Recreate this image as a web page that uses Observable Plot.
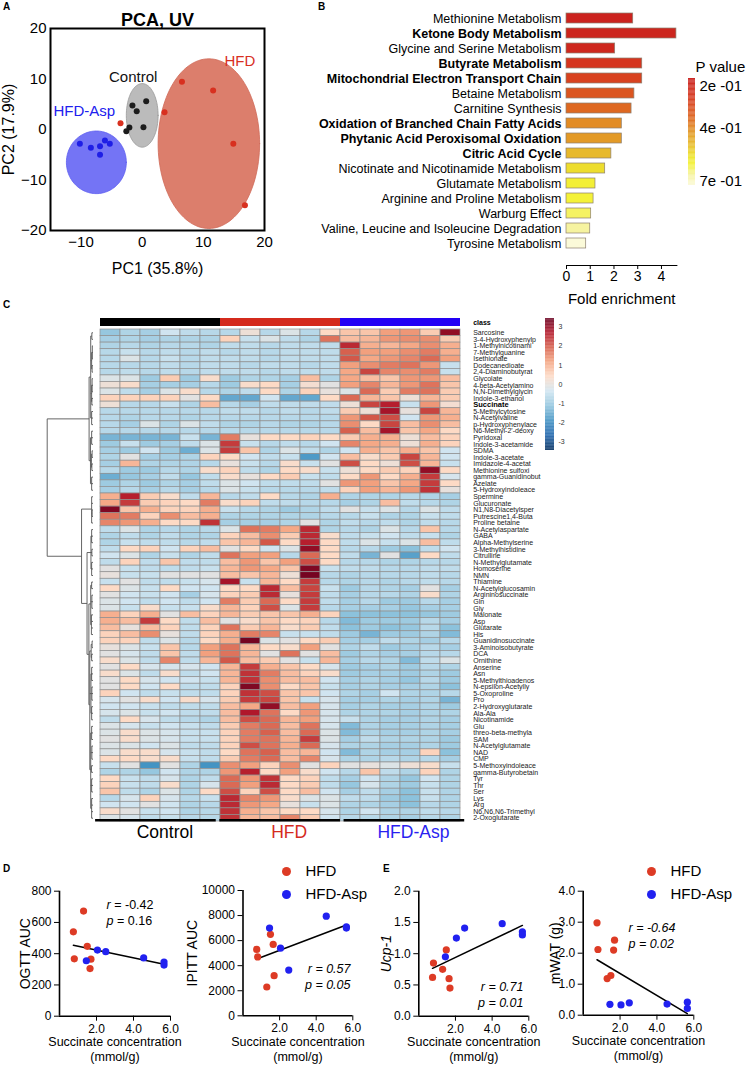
<!DOCTYPE html>
<html><head><meta charset="utf-8">
<script src="https://cdn.jsdelivr.net/npm/d3@7"></script>
<script src="https://cdn.jsdelivr.net/npm/@observablehq/plot@0.6"></script>
<style>
body{margin:0;background:#fff;font-family:"Liberation Sans",Arial,sans-serif;}
#root{position:relative;width:747px;height:1077px;overflow:hidden;background:#fff;}
#root svg{max-width:none;}
.plab{position:absolute;font-weight:bold;font-size:10px;line-height:10px;}
</style></head><body><div id="root"></div>
<script>
// ---------------- DATA ----------------
// Panel A (PCA scores)
const pcaControlX = [-1.6, -0.9, 0.65, -2.1, 0.2, -2.6];
const pcaControlY = [4.75, 3.6, 5.6, 0.4, 0.45, -0.35];
const pcaHfdX = [6.5, 11.6, 3.65, 14.9, 16.8, -3.55];
const pcaHfdY = [9.45, 7.7, 3.4, -2.8, -15.0, 1.25];
const pcaAspX = [-10.2, -8.4, -6.9, -6.1, -5.3, -6.9];
const pcaAspY = [-2.8, -3.6, -3.3, -2.2, -2.8, -5.0];
const pcaGroups = ["Control", "HFD", "HFD-Asp"];
const pcaEllipseCX = [0.0, 10.9, -7.5];
const pcaEllipseCY = [2.8, -2.8, -6.5];
const pcaEllipseRX = [2.6, 8.3, 4.9];
const pcaEllipseRY = [6.3, 16.8, 6.2];

// Panel B (enrichment)
const pathways = ["Methionine Metabolism","Ketone Body Metabolism","Glycine and Serine Metabolism","Butyrate Metabolism","Mitochondrial Electron Transport Chain","Betaine Metabolism","Carnitine Synthesis","Oxidation of Branched Chain Fatty Acids","Phytanic Acid Peroxisomal Oxidation","Citric Acid Cycle","Nicotinate and Nicotinamide Metabolism","Glutamate Metabolism","Arginine and Proline Metabolism","Warburg Effect","Valine, Leucine and Isoleucine Degradation","Tyrosine Metabolism"];
const foldEnrichment = [2.81, 4.63, 2.05, 3.19, 3.19, 2.86, 2.74, 2.33, 2.33, 1.89, 1.63, 1.22, 1.14, 1.04, 1.0, 0.83];
const pValues = [0.17, 0.18, 0.19, 0.24, 0.27, 0.31, 0.35, 0.40, 0.42, 0.47, 0.52, 0.56, 0.57, 0.59, 0.62, 0.67];
const boldPathways = ["Ketone Body Metabolism","Butyrate Metabolism","Mitochondrial Electron Transport Chain","Oxidation of Branched Chain Fatty Acids","Phytanic Acid Peroxisomal Oxidation","Citric Acid Cycle"];
const pLegendTicks = [0.2, 0.4, 0.65];
const pLegendLabels = ["2e -01", "4e -01", "7e -01"];

// Panel C (heatmap)
const samples = ["C1","C2","C3","C4","C5","C6","H1","H2","H3","H4","H5","H6","A1","A2","A3","A4","A5","A6"];
const sampleGroup = ["Control","Control","Control","Control","Control","Control","HFD","HFD","HFD","HFD","HFD","HFD","HFD-Asp","HFD-Asp","HFD-Asp","HFD-Asp","HFD-Asp","HFD-Asp"];
const metabolites = ["Sarcosine","3-4-Hydroxyphenylp","1-Methylnicotinami","7-Methylguanine","Isethionate","Dodecanedioate","2,4-Diaminobutyrat","Glycolate","4-beta-Acetylamino","N,N-Dimethylglycin","Indole-3-ethanol","Succinate","5-Methylcytosine","N-Acetylvaline","p-Hydroxyphenylace","N6-Methyl-2'-deoxy","Pyridoxal","Indole-3-acetamide","SDMA","Indole-3-acetate","Imidazole-4-acetat","Methionine sulfoxi","gamma-Guanidinobut","Azelate","5-Hydroxyindoleace","Spermine","Glucuronate","N1,N8-Diacetylsper","Putrescine1,4-Buta","Proline betaine","N-Acetylaspartate","GABA","Alpha-Methylserine","3-Methylhistidine","Citrulline","N-Methylglutamate","Homoserine","NMN","Thiamine","N-Acetylglucosamin","Argininosuccinate","Gln","Gly","Malonate","Asp","Glutarate","His","Guanidinosuccinate","3-Aminoisobutyrate","DCA","Ornithine","Anserine","Asn","5-Methylthioadenos","N-epsilon-Acetylly","5-Oxoproline","Pro","2-Hydroxyglutarate","Ala-Ala","Nicotinamide","Glu","threo-beta-methyla","SAM","N-Acetylglutamate","NAD","CMP","5-Methoxyindoleace","gamma-Butyrobetain","Tyr","Thr","Ser","Lys","Arg","N6,N6,N6-Trimethyl","2-Oxoglutarate"];
const boldMetabolites = ["Succinate"];
const heatValues = [
[-1.1,-0.8,-0.9,-0.4,-0.6,-0.7,-0.7,0.1,-0.7,-0.2,-0.7,0.4,0.7,0.7,1.2,1.3,0.6,3.0],
[-0.9,-0.8,-0.9,-0.8,-0.8,-0.8,0.5,-0.5,-0.2,-0.6,-0.8,1.7,0.8,0.9,1.3,1.4,1.4,0.6],
[-0.8,-0.7,-0.8,-0.7,-0.7,-0.8,-0.6,-0.6,-0.7,-0.6,-0.6,-0.6,2.5,1.0,0.9,1.1,1.4,1.0],
[-0.7,-0.5,-0.7,-0.6,-0.7,-0.6,-0.7,-0.6,-0.7,-0.6,-0.6,-0.6,1.9,1.2,1.2,1.4,1.6,1.0],
[-0.7,-0.2,-0.7,-0.5,-0.7,-0.6,-0.6,-0.6,-0.7,-0.6,-0.6,-0.6,2.0,1.1,1.3,1.5,1.8,1.2],
[-0.7,-0.7,-0.7,-0.6,-0.7,-0.6,-0.6,-0.7,-0.6,-0.6,-0.7,-0.6,1.2,1.4,1.6,1.7,1.3,-0.5],
[-0.7,-0.6,-0.7,-0.6,-0.7,-0.6,-0.6,-0.6,-0.7,-0.6,-0.6,-0.6,1.1,2.2,1.5,1.4,1.6,-0.5],
[-0.2,-0.2,-1.0,0.6,-1.0,0.3,-1.0,-0.8,-0.8,-0.9,0.8,-0.8,1.1,0.8,0.7,1.3,1.3,0.8],
[0.1,0.3,-0.9,-0.9,-0.9,-0.7,-1.0,0.3,0.4,-0.9,0.2,-0.1,1.2,1.5,0.9,1.3,1.7,0.7],
[-0.2,-0.6,-0.9,-0.2,0.3,-0.7,-0.8,-0.6,0.4,-0.8,0.5,0.0,-0.2,1.8,0.6,1.6,1.7,0.6],
[0.5,0.5,0.5,0.5,-0.1,0.4,-1.6,-1.6,-0.4,-1.6,-1.6,0.4,1.8,0.9,0.7,0.1,0.9,0.6],
[0.1,-0.7,-0.7,-0.5,-0.8,0.8,-0.7,-0.9,-0.6,-0.6,-0.6,-0.6,0.1,2.2,2.6,-0.5,1.3,0.2],
[-0.7,-0.7,-0.7,-0.7,-0.7,-0.7,-0.6,-0.6,-0.7,-0.6,-0.7,-0.6,0.6,0.1,2.8,0.0,2.2,0.9],
[-0.7,-0.8,-0.7,-0.7,-0.8,-0.7,-0.7,-0.7,-0.7,-0.7,-0.7,-0.7,1.3,2.0,2.1,-0.4,1.3,1.0],
[-0.7,-0.9,-0.2,-0.8,-0.2,-0.6,-0.8,-0.8,-0.7,-0.8,-0.8,-0.7,1.4,0.4,2.2,0.8,1.4,0.8],
[-0.7,-0.7,-0.7,-0.7,-0.7,-0.7,-0.7,-0.7,-0.7,-0.7,-0.7,-0.7,1.9,0.8,2.8,0.7,1.1,0.4],
[-1.4,-1.4,-1.4,-1.4,-0.5,-1.4,1.6,0.0,0.4,0.4,0.5,0.4,0.6,1.0,1.0,0.1,0.8,0.5],
[-1.0,-0.5,-1.0,-0.9,-0.6,-0.2,2.3,-0.5,-0.7,-0.6,-0.7,-0.4,1.5,1.1,1.0,0.1,1.0,0.5],
[-0.9,-1.0,-0.4,-1.0,-1.5,-0.2,2.3,0.7,-0.8,-0.2,-0.6,-0.8,-0.4,1.0,0.7,1.0,0.7,-0.4],
[-0.8,-0.1,-0.9,-0.9,-0.8,0.5,0.4,-0.4,-0.6,-0.5,-1.8,-0.4,0.8,0.3,0.6,2.2,0.9,-0.4],
[-0.9,0.9,-0.8,-0.8,-0.8,-0.7,0.0,-0.5,-0.7,0.3,-0.5,-0.1,2.1,0.4,0.1,2.1,0.9,-0.5],
[-0.7,-1.0,-1.0,-0.7,-0.8,0.3,0.5,-0.6,-0.8,0.4,0.3,-0.5,0.1,0.4,0.6,0.5,3.0,0.4],
[-1.5,-1.1,-0.9,-0.6,-1.1,-0.6,0.3,0.0,0.4,0.6,-0.5,-0.6,0.4,1.3,0.4,1.0,2.3,-0.3],
[-1.0,-0.8,-1.0,-0.8,-0.9,-0.6,-0.2,-0.4,-0.6,-0.6,-0.6,-0.1,1.3,1.2,0.7,1.1,2.3,0.4],
[-0.9,-0.7,-0.9,-0.7,-0.9,-0.7,-0.2,-0.5,-0.7,-0.7,-0.7,-0.6,0.5,1.2,0.9,1.3,2.4,0.0],
[1.0,2.6,0.6,0.3,-0.6,0.9,-0.7,-0.6,0.4,-0.7,-0.8,1.0,-0.8,-0.8,-0.8,-0.7,-0.8,-0.9],
[1.1,2.3,0.6,0.5,0.4,1.6,0.3,0.5,-0.6,-0.6,-0.7,-0.7,-0.9,-0.8,0.8,-0.6,-0.7,-0.8],
[3.2,0.7,1.0,0.5,0.5,1.0,-0.5,-0.7,-0.8,-1.0,-0.8,-0.6,-0.1,-0.5,-0.2,-0.7,-0.2,-0.6],
[1.7,1.6,0.5,1.4,0.8,1.0,-0.8,-0.8,-0.8,-0.8,-0.8,-0.7,-0.7,-0.5,-0.8,-0.8,-0.5,-0.6],
[1.5,1.3,1.0,0.4,0.4,2.4,-0.9,-0.9,-0.9,-0.8,-0.1,-0.8,-0.6,-0.7,-0.6,-0.8,-0.6,-0.7],
[-0.6,-0.2,-0.8,-0.7,-0.8,-0.7,-0.2,1.7,1.6,1.1,2.5,-0.8,-0.7,-0.8,-0.2,-0.7,0.7,-0.7],
[-0.8,-0.6,-0.8,-0.6,-0.8,-0.8,0.5,0.8,1.4,0.6,2.5,0.3,-0.6,-0.5,-0.4,-0.6,-0.5,-0.8],
[-0.8,-0.5,-0.6,-0.6,-0.7,-0.6,0.7,0.9,2.0,0.4,2.6,0.4,-0.6,-0.2,-0.5,-0.2,0.8,-0.6],
[-0.6,0.4,0.5,-0.4,0.5,0.8,-0.1,0.4,-0.4,-0.2,3.0,0.4,-0.7,-0.7,-1.0,-1.2,-0.6,-0.4],
[-0.4,-0.2,-0.8,-0.5,-0.8,-0.6,1.7,1.2,1.2,-0.7,1.8,0.4,-0.6,-1.4,-0.1,-1.7,0.4,-0.6],
[-0.6,0.5,-0.6,0.7,-0.6,-0.6,0.8,1.3,0.7,1.2,2.1,0.4,-0.7,-0.7,-0.8,-0.8,-0.7,-0.7],
[-0.1,-0.5,-0.6,-0.6,-0.6,-0.5,0.9,1.3,1.1,0.7,3.2,-0.5,-0.6,-0.6,-0.7,-0.7,-0.6,-0.6],
[0.0,-0.5,-0.5,-0.1,-0.1,-0.1,0.8,0.7,0.9,0.1,3.3,-0.7,-0.8,-0.7,-0.7,-0.7,-0.6,-0.7],
[-0.5,-0.1,-0.6,-0.6,-0.5,-0.3,2.8,-0.5,0.9,0.4,2.3,-0.7,-0.8,-0.7,-0.8,-0.7,-0.6,-0.7],
[0.4,-0.2,-0.5,0.4,-0.4,-0.4,0.4,0.4,2.5,0.8,2.2,-0.5,-1.0,-0.7,-0.8,-0.9,-0.1,-0.9],
[-0.1,-0.4,-0.5,-0.4,-0.9,-0.3,0.5,0.6,2.5,0.0,2.3,-0.6,-0.9,-0.7,-0.7,-0.8,0.3,-0.8],
[-0.2,-0.4,-0.6,-0.4,-0.6,-0.4,1.6,0.6,1.8,0.4,2.3,-0.6,-0.9,-0.7,-1.0,-1.0,-0.7,-0.9],
[-0.2,-0.5,0.3,-0.5,-0.5,0.3,0.9,0.5,2.1,-0.2,2.3,-0.7,-0.9,-0.9,-0.9,-1.1,-0.9,-0.9],
[1.0,0.5,1.0,-0.1,0.8,0.5,0.9,0.6,0.7,0.7,1.0,0.5,-1.2,-1.2,-1.2,-1.2,-1.1,-1.0],
[1.0,0.8,2.3,0.4,-0.6,0.8,-0.1,0.3,0.7,0.4,0.5,-0.7,-1.3,-1.0,-1.0,-1.0,-0.7,-0.9],
[0.8,0.0,0.8,0.5,-0.6,0.5,1.7,0.6,0.9,0.3,0.6,-0.6,-1.2,-1.0,-1.2,-1.1,-0.7,-1.2],
[0.5,0.8,1.4,0.0,-0.6,0.5,1.0,1.6,1.5,-0.5,-0.5,-0.6,-1.0,-1.4,-1.0,-1.0,-0.8,-1.3],
[0.5,0.5,-0.6,-0.2,-0.7,0.4,1.0,3.3,-0.2,-0.1,0.4,0.6,-0.9,-0.9,-0.6,-0.8,-0.9,-0.7],
[0.0,-0.2,-0.5,0.7,-0.7,1.2,1.7,0.9,0.4,0.3,1.2,-0.1,-0.8,-0.6,-1.0,-0.9,-0.7,-0.9],
[-0.1,-0.3,-0.6,0.7,-0.6,1.2,1.7,0.9,-0.1,1.7,-0.1,0.8,-1.0,-0.8,-0.9,-0.9,-0.7,-0.7],
[0.3,-0.2,-0.6,1.5,-0.6,0.9,2.0,0.8,0.6,-0.1,-0.5,0.9,-0.9,-0.7,-0.8,-1.3,-0.6,-0.2],
[-0.1,0.4,-0.3,-0.3,-0.3,-0.4,0.9,2.3,1.0,0.7,0.4,-0.3,-1.0,-0.9,-0.8,-1.0,-0.7,-0.8],
[0.3,-0.2,-0.6,0.3,-0.6,-0.4,0.9,2.4,1.6,0.8,0.5,0.3,-1.0,-0.9,-0.9,-1.0,-0.8,-1.0],
[-0.1,0.4,-0.3,-0.4,-0.4,-0.5,0.9,2.4,1.4,0.8,0.8,-0.4,-0.9,-0.8,-0.9,-1.1,-0.7,-1.0],
[-0.1,0.4,-0.4,0.4,-0.6,-0.6,0.5,3.2,1.4,0.4,0.7,-0.5,-0.9,-0.8,-0.9,-0.9,-0.8,-1.2],
[0.5,-0.4,-0.6,-0.5,-0.6,-0.6,0.5,2.4,2.1,0.7,0.7,-0.4,-0.8,-0.9,-0.4,-0.8,-0.8,-0.7],
[-0.3,-0.1,0.3,-0.4,0.3,-0.3,0.6,2.3,2.2,0.7,-0.5,-0.3,-0.9,-0.9,-0.8,-0.9,-0.8,-1.4],
[-0.4,-0.4,-0.5,-0.6,-0.6,-0.6,0.8,1.1,3.0,0.8,1.2,-0.3,-0.9,-0.8,-0.9,-0.9,-0.8,-1.0],
[-0.3,-0.2,-0.5,-0.4,-0.6,-0.6,0.8,2.7,1.7,0.4,1.3,-0.3,-0.8,-0.8,-0.8,-0.9,-0.8,-0.8],
[-0.6,0.4,-0.3,-0.6,-0.7,-0.8,0.8,2.1,1.8,0.9,1.2,-0.3,-0.5,-0.8,-0.9,-0.9,-0.8,-0.9],
[-0.2,-0.3,-0.5,-0.4,-0.5,-0.6,0.6,1.6,1.8,0.8,1.7,-0.3,-1.3,-0.8,-0.9,-0.9,-0.8,-0.9],
[-0.2,0.3,-0.2,-0.3,-0.5,-0.5,0.5,1.6,1.9,0.8,1.8,-0.2,-1.3,-0.8,-0.9,-0.9,-0.8,-0.9],
[-0.1,0.3,-0.2,-0.3,-0.5,-0.5,0.5,1.6,1.7,0.9,2.3,-0.2,-0.9,-0.6,-0.8,-0.8,-0.8,-1.0],
[-0.2,-0.2,-0.4,-0.2,-0.6,-0.6,0.5,2.1,1.7,1.0,1.8,-0.3,-0.8,-0.8,-0.9,-0.9,-0.8,-1.0],
[-0.2,0.3,0.3,-0.3,-0.5,-0.6,0.4,1.7,1.9,0.8,0.9,-0.4,-1.3,-0.8,-0.9,-0.9,0.5,-1.2],
[0.4,0.4,0.3,0.3,-0.5,-0.6,0.6,1.6,1.8,0.8,1.5,-0.3,-0.8,-0.8,-0.7,-0.8,-0.7,-0.9],
[-0.5,-0.1,-1.9,-0.1,-0.8,-1.9,1.4,1.2,0.5,1.4,-0.1,0.5,-0.1,0.0,-0.2,0.1,0.3,-0.5],
[-0.8,-0.8,-1.1,-0.4,-0.8,-0.8,1.3,2.6,0.4,1.2,0.3,-0.4,-0.7,0.7,-0.6,-0.8,0.5,-0.8],
[0.4,-0.5,-0.6,-0.3,-0.8,-0.6,1.8,1.3,2.4,0.4,0.5,-0.6,-0.9,-0.4,-0.8,-1.1,-0.4,-0.8],
[0.5,-0.5,-0.6,0.3,-0.8,-0.3,1.8,1.2,2.5,0.4,0.6,-0.6,-1.1,-0.3,-0.8,-1.0,-0.5,-0.8],
[0.7,-0.6,-0.8,-0.2,-0.8,0.4,2.1,0.5,2.1,0.4,0.8,-0.4,-0.9,-0.6,-0.9,-1.2,-0.5,-0.8],
[-0.7,-0.3,0.5,-0.3,-0.7,-0.5,2.5,1.5,1.3,0.3,-0.2,-0.2,-0.6,-0.6,-1.0,-1.2,-0.5,-0.8],
[-0.4,-0.4,-0.1,-0.4,-0.8,-0.7,2.5,1.3,1.1,0.0,-0.5,-0.2,-0.8,-0.8,-0.9,-1.2,-0.7,-0.8],
[0.3,-0.1,-0.5,-0.4,-0.8,-0.7,2.4,1.0,0.7,0.4,0.4,-0.3,-0.8,-0.4,-0.8,-0.8,-0.6,-0.7],
[-0.2,-0.3,-0.6,-0.5,-0.7,-0.7,2.4,0.9,0.8,1.5,0.6,-0.4,-0.7,-0.7,-0.8,-0.9,-0.7,-0.8]
];
// dendrogram: [mergeHeight, ...children]; leaves are row indices
const dendroTree =
[10,
  [0.85,
    [0.5,[0.25,0,1],[0.3,[0.15,2,3,4],[0.2,5,6]],[0.3,[0.2,7,8,9],[0.25,10,11]],[0.3,12,13,14]],
    [0.55,[0.3,15,16,17],[0.35,[0.2,18,19],[0.25,20,21]],[0.3,22,23,24]]],
  [2.5,
    [0.3,25,26,[0.2,27,28],29],
    [1.3,
      [0.45,[0.3,30,31,32],[0.25,33,34],[0.3,35,36,37]],
      [0.9,
        [0.5,[0.3,38,39],[0.25,40,41,42],[0.35,43,44,45,46]],
        [0.7,[0.4,[0.2,47,48],[0.3,49,50]],
             [0.45,[0.3,51,52,53],[0.25,54,55,56],[0.3,57,58,59]],
             [0.5,[0.3,60,61,62],[0.25,63,64,65],[0.35,66,67],[0.3,68,69,70],[0.3,71,72,73,74]]]]]]];
const heatLegendTicks = [-3, -2, -1, 0, 1, 2, 3];
const heatPalette = ["#053061","#2166ac","#4393c3","#92c5de","#d1e5f0","#fddbc7","#f4a582","#d6604d","#b2182b","#67001f"];

// Panels D & E (succinate correlations)
const succHFD = [0.75, 0.8, 1.3, 1.5, 1.65, 1.7];
const succAsp = [1.45, 2.05, 2.5, 4.55, 5.65, 5.65];
const ogttHFD = [540, 367, 673, 447, 305, 365];
const ogttAsp = [355, 423, 413, 373, 347, 327];
const ipittHFD = [5300, 4700, 2300, 6500, 5700, 3200];
const ipittAsp = [7000, 5400, 3650, 7950, 7100, 7000];
const ucp1HFD = [0.62, 0.85, 0.75, 1.06, 0.6, 0.45];
const ucp1Asp = [0.95, 1.25, 1.41, 1.48, 1.35, 1.30];
const mwatHFD = [2.98, 2.12, 1.18, 1.28, 2.1, 2.42];
const mwatAsp = [0.35, 0.33, 0.4, 0.36, 0.42, 0.22];

// ---------------- LAYOUT ----------------
const FONT = '"Liberation Sans", Arial, sans-serif';
const root = document.getElementById("root");
function place(el, left, top) {
  el.style.position = "absolute"; el.style.left = left + "px"; el.style.top = top + "px";
  el.style.maxWidth = "none"; el.style.background = "transparent"; el.style.overflow = "visible";
  root.appendChild(el);
}
function label(t, left, top) {
  const d = document.createElement("div"); d.className = "plab"; d.textContent = t;
  d.style.left = left + "px"; d.style.top = top + "px"; root.appendChild(d);
}
const baseStyle = (fs) => ({fontFamily: FONT, fontSize: fs, background: "transparent", color: "black", overflow: "visible"});
// rotated (-90°) axis title, centred on the frame's left edge and shifted left
const vLabel = (t, shiftLeft, opts = {}) => Plot.text([t], {frameAnchor: "left", text: d => d, rotate: -90, textAnchor: "middle", dx: -shiftLeft, ...opts});

// ---- Panel A ----
const groupColor = {"Control": "#1c1c1c", "HFD": "#d8301f", "HFD-Asp": "#1e1ee6"};
const ellFill = ["#bbbbbb", "#dc7e6c", "#7474f5"];
const ellStroke = ["#999999", "#cf6a58", "#5d5df0"];
const angles = d3.range(0, 361, 3).map(a => a * Math.PI / 180);
const ellipseMarks = pcaGroups.map((g, i) => Plot.line(
  angles.map(t => ({x: pcaEllipseCX[i] + pcaEllipseRX[i] * Math.cos(t), y: pcaEllipseCY[i] + pcaEllipseRY[i] * Math.sin(t)})),
  {x: "x", y: "y", fill: ellFill[i], stroke: ellStroke[i], strokeWidth: 0.8, curve: "linear-closed"}));
const pcaPts = (xs, ys) => xs.map((x, i) => ({x, y: ys[i]}));
const ellTop = (i) => [{x: pcaEllipseCX[i], y: pcaEllipseCY[i] + pcaEllipseRY[i]}];
const pca = Plot.plot({
  width: 270, height: 290, marginLeft: 50, marginRight: 6, marginTop: 28, marginBottom: 60,
  x: {domain: [-15, 20], ticks: [-10, 0, 10, 20], tickSize: 0, tickPadding: 6, label: null},
  y: {domain: [-20, 20], ticks: [-20, -10, 0, 10, 20], tickSize: 0, tickPadding: 4, label: null},
  style: baseStyle("15px"),
  marks: [
    ...ellipseMarks,
    Plot.frame({stroke: "black", strokeWidth: 2}),
    Plot.dot(pcaPts(pcaControlX, pcaControlY), {x: "x", y: "y", r: 3, fill: groupColor["Control"]}),
    Plot.dot(pcaPts(pcaHfdX, pcaHfdY), {x: "x", y: "y", r: 3, fill: groupColor["HFD"]}),
    Plot.dot(pcaPts(pcaAspX, pcaAspY), {x: "x", y: "y", r: 3, fill: groupColor["HFD-Asp"]}),
    Plot.text(ellTop(0), {x: "x", y: "y", text: () => "Control", dx: -9, dy: -6, fontSize: 15, fill: "#111"}),
    Plot.text(ellTop(1), {x: "x", y: "y", text: () => "HFD", dx: 31, dy: 2, fontSize: 15, fill: "#d8301f"}),
    Plot.text(ellTop(2), {x: "x", y: "y", text: () => "HFD-Asp", dx: -12, dy: -20, fontSize: 15, fill: "#2020ee"}),
    Plot.text(["PCA, UV"], {frameAnchor: "top", text: d => d, dy: -15, fontSize: 18, fontWeight: "bold"}),
    Plot.text(["PC1 (35.8%)"], {frameAnchor: "bottom", text: d => d, dy: 43, fontSize: 16}),
    vLabel("PC2 (17.9%)", 42, {fontSize: 16})
  ]
});
place(pca, 0, 0);

// ---- Panel B ----
const pColor = {type: "linear", interpolate: "rgb",
  domain: [0.15, 0.25, 0.35, 0.42, 0.48, 0.53, 0.57, 0.62, 0.68],
  range: ["#c81e1e", "#d6381f", "#de6821", "#e39a27", "#e8bf2d", "#eee42e", "#f4f238", "#f6f3a0", "#fcfbe4"]};
const enrich = pathways.map((name, i) => ({name, fold: foldEnrichment[i], p: pValues[i], bold: boldPathways.includes(name)}));
const barPlot = Plot.plot({
  width: 440, height: 310, marginLeft: 316, marginRight: 13.6, marginTop: 4.85, marginBottom: 45,
  x: {domain: [0, 4.65], ticks: [0, 1, 2, 3, 4], tickFormat: d3.format("d"), tickSize: 4, tickPadding: 2, line: true, label: null},
  y: {domain: pathways, paddingInner: 0.34, paddingOuter: 0.17, insetBottom: 9, axis: null},
  color: pColor,
  style: baseStyle("14px"),
  marks: [
    Plot.barX(enrich, {x: "fold", y: "name", fill: "p", stroke: "#8c7f70", strokeWidth: 0.7}),
    Plot.text(enrich.filter(d => !d.bold), {y: "name", text: "name", frameAnchor: "left", textAnchor: "end", dx: -5, fontSize: 12.5}),
    Plot.text(enrich.filter(d => d.bold), {y: "name", text: "name", frameAnchor: "left", textAnchor: "end", dx: -5, fontSize: 12.5, fontWeight: "bold"}),
    Plot.text(["Fold enrichment"], {frameAnchor: "bottom", text: d => d, dy: 38, fontSize: 15})
  ]
});
place(barPlot, 250, 0);

const pRamp = d3.range(0.162, 0.671, 0.004);
const pLegend = Plot.plot({
  width: 77, height: 150, marginLeft: 18, marginRight: 52, marginTop: 28, marginBottom: 15,
  x: {axis: null}, y: {domain: [0.162, 0.671], reverse: true, axis: null},
  color: pColor, style: baseStyle("15px"),
  marks: [
    Plot.rect(pRamp, {y1: d => d, y2: d => Math.min(d + 0.0045, 0.671), fill: d => d}),
    Plot.text(pLegendTicks, {y: d => d, text: (d, i) => pLegendLabels[i], frameAnchor: "right", textAnchor: "start", dx: 4, fontSize: 15}),
    Plot.text(["P value"], {frameAnchor: "top-right", text: d => d, textAnchor: "start", dy: -17, fontSize: 15})
  ]
});
place(pLegend, 670, 50);

// ---- Panel C ----
const heatColor = {type: "linear", interpolate: "rgb",
  domain: d3.range(10).map(i => -3.44 + i * 6.88 / 9), range: heatPalette};
const cells = [];
metabolites.forEach((m, i) => samples.forEach((s, j) => cells.push({m, s, v: heatValues[i][j]})));
const heat = Plot.plot({
  width: 560, height: 530, marginLeft: 93.3, marginRight: 94, marginTop: 29, marginBottom: 9,
  x: {domain: samples, padding: 0, axis: null},
  y: {domain: metabolites, padding: 0, axis: null},
  color: heatColor, style: baseStyle("7px"),
  marks: [
    Plot.cell(cells, {x: "s", y: "m", fill: "v", stroke: "#8f8f8f", strokeWidth: 0.7, inset: 0}),
    Plot.text(metabolites.filter(m => !boldMetabolites.includes(m)), {y: d => d, text: d => d, frameAnchor: "right", textAnchor: "start", dx: 6.7, fontSize: 7, fill: "#222"}),
    Plot.text(boldMetabolites, {y: d => d, text: d => d, frameAnchor: "right", textAnchor: "start", dx: 6.7, fontSize: 7.5, fontWeight: "bold"})
  ]
});
place(heat, 0, 300);

// dendrogram
const segs = [];
function walk(node) {
  if (typeof node === "number") return {h: 0, y: node};
  const [h, ...kids] = node;
  const ks = kids.map(walk);
  ks.forEach(k => segs.push({x1: k.h, y1: k.y, x2: h, y2: k.y}));
  const ys = ks.map(k => k.y);
  segs.push({x1: h, y1: d3.min(ys), x2: h, y2: d3.max(ys)});
  return {h, y: d3.mean(ys)};
}
walk(dendroTree);
const dendro = Plot.plot({
  width: 94, height: 530, marginLeft: 46.7, marginRight: 1.5, marginTop: 29, marginBottom: 9,
  x: {domain: [10, 0], axis: null},
  y: {domain: [-0.5, metabolites.length - 0.5], reverse: true, axis: null},
  style: baseStyle("7px"),
  marks: [Plot.link(segs, {x1: "x1", y1: "y1", x2: "x2", y2: "y2", stroke: "#555", strokeWidth: 0.9})]
});
place(dendro, 0, 300);

// class bar
const groupNames = ["Control", "HFD", "HFD-Asp"];
const classColors = ["#000000", "#d42a1c", "#2200f5"];
const classBar = Plot.plot({
  width: 560, height: 20, marginLeft: 93.3, marginRight: 94, marginTop: 8, marginBottom: 4,
  x: {domain: samples, padding: 0, axis: null},
  color: {domain: groupNames, range: classColors},
  style: baseStyle("7px"),
  marks: [
    Plot.cell(samples, {x: d => d, fill: (d, i) => sampleGroup[i], inset: 0}),
    Plot.text(["class"], {frameAnchor: "right", text: d => d, textAnchor: "start", dx: 6.7, fontSize: 7, fontWeight: "bold"})
  ]
});
place(classBar, 0, 310);

// group underline + labels
const groupSpans = groupNames.map(g => {
  const idx = sampleGroup.map((s, i) => s === g ? i : -1).filter(i => i >= 0);
  return {g, start: d3.min(idx), end: d3.max(idx) + 1};
});
const groupLbl = Plot.plot({
  width: 560, height: 40, marginLeft: 93.3, marginRight: 94, marginTop: 7, marginBottom: 30.5,
  x: {domain: [0, samples.length], axis: null},
  color: {domain: groupNames, range: ["#000000", "#d52b1e", "#2a1ff0"]},
  style: baseStyle("17.5px"),
  marks: [
    Plot.rect(groupSpans, {x1: "start", x2: "end", fill: "black", insetLeft: 1.8, insetRight: 1.8}),
    Plot.text(groupSpans, {x: d => (d.start + d.end) / 2, text: "g", fill: "g", frameAnchor: "bottom", dy: 15.5, dx: 9, fontSize: 17.5})
  ]
});
place(groupLbl, 0, 812);

// heat legend
const heatRamp = d3.range(-3.44, 3.44, 0.04);
const heatLegend = Plot.plot({
  width: 40, height: 160, marginLeft: 15, marginRight: 16, marginTop: 18, marginBottom: 10,
  x: {axis: null}, y: {domain: [-3.44, 3.44], axis: null},
  color: heatColor, style: baseStyle("7px"),
  marks: [
    Plot.rect(heatRamp, {y1: d => d, y2: d => Math.min(d + 0.045, 3.44), fill: d => d}),
    Plot.text(heatLegendTicks, {y: d => d, text: d => String(d), frameAnchor: "right", textAnchor: "start", dx: 4, fontSize: 7, fill: "#333"})
  ]
});
place(heatLegend, 530, 300);

// ---- Panels D & E ----
function scatter(cfg) {
  const hfd = succHFD.map((x, i) => ({x, y: cfg.hfd[i]}));
  const asp = succAsp.map((x, i) => ({x, y: cfg.asp[i]}));
  const all = hfd.concat(asp);
  const W = cfg.W, H = cfg.H;
  const marks = [
    Plot.ruleX([0], {strokeWidth: 1.6}),
    Plot.ruleY([cfg.yDomain[0]], {strokeWidth: 1.6}),
    Plot.linearRegressionY(all, {x: "x", y: "y", stroke: "black", strokeWidth: 1.5, ci: 0}),
    Plot.dot(hfd, {x: "x", y: "y", r: 3.6, fill: "#dd3b25"}),
    Plot.dot(asp, {x: "x", y: "y", r: 3.6, fill: "#2121f0"}),
    Plot.text(["Succinate concentration\n(mmol/g)"], {frameAnchor: "bottom", text: d => d, dy: 44.8, fontSize: 12.5, lineHeight: 1.2}),
    vLabel(cfg.ylabel, cfg.ylabelShift, {fontSize: 14, fontStyle: cfg.ylabelItalic ? "italic" : "normal"})
  ].concat(cfg.annot);
  return Plot.plot({
    width: W, height: H,
    marginLeft: cfg.fL - cfg.L, marginTop: cfg.fT - cfg.T, marginRight: cfg.L + W - cfg.fR, marginBottom: cfg.T + H - cfg.fB,
    x: {domain: [0, 6], ticks: [2, 4, 6], tickFormat: d3.format(".1f"), tickSize: 5, tickPadding: 3, label: null},
    y: {domain: cfg.yDomain, ticks: cfg.yTicks, tickFormat: cfg.yFormat, tickSize: 5, tickPadding: 3, label: null},
    style: baseStyle("12px"),
    marks
  });
}
const fs = 12.5;
const annText = (t, anchor, dx, dy, italic, ta) => Plot.text([t], {frameAnchor: anchor, text: d => d, dx, dy, fontSize: fs, fontStyle: italic ? "italic" : "normal", textAnchor: ta});
const d1 = scatter({L: 0, T: 860, W: 185, H: 215, fL: 59, fT: 890.7, fR: 170, fB: 1015.7,
  hfd: ogttHFD, asp: ogttAsp, yDomain: [0, 800], yTicks: [0, 200, 400, 600, 800], yFormat: d3.format("d"),
  ylabel: "OGTT AUC", ylabelShift: 34,
  annot: [annText("r", "top-left", 47, 9.3, true, "start"), annText("= -0.42", "top-left", 54.7, 9.3, false, "start"),
          annText("p", "top-left", 47, 25, true, "start"), annText("= 0.16", "top-left", 57.5, 25, false, "start")]});
place(d1, 0, 860);
const d2 = scatter({L: 185, T: 860, W: 180, H: 215, fL: 242.5, fT: 890, fR: 352.3, fB: 1015.3,
  hfd: ipittHFD, asp: ipittAsp, yDomain: [0, 10000], yTicks: [0, 2000, 4000, 6000, 8000, 10000], yFormat: d3.format("d"),
  ylabel: "IPITT AUC", ylabelShift: 50.8,
  annot: [annText("r = 0.57", "top-right", -2.3, 74, true, "end"), annText("p = 0.05", "top-right", -2.3, 90, true, "end")]});
place(d2, 185, 860);
const e1 = scatter({L: 365, T: 860, W: 175, H: 215, fL: 418.3, fT: 890.7, fR: 528.3, fB: 1015.7,
  hfd: ucp1HFD, asp: ucp1Asp, yDomain: [0, 2], yTicks: [0, 0.5, 1, 1.5, 2], yFormat: d3.format(".1f"),
  ylabel: "Ucp-1", ylabelShift: 32.3, ylabelItalic: true,
  annot: [annText("r = 0.71", "top-right", -5.3, 91, true, "end"), annText("p = 0.01", "top-right", -5.3, 107, true, "end")]});
place(e1, 365, 860);
const e2 = scatter({L: 540, T: 860, W: 207, H: 215, fL: 582.7, fT: 890.7, fR: 693.3, fB: 1014.7,
  hfd: mwatHFD, asp: mwatAsp, yDomain: [0, 4], yTicks: [0, 1, 2, 3, 4], yFormat: d3.format(".1f"),
  ylabel: "mWAT (g)", ylabelShift: 27.7,
  annot: [annText("r = -0.64", "top-left", 45.3, 32.3, true, "start"), annText("p = 0.02", "top-left", 45.3, 48.3, true, "start")]});
place(e2, 540, 860);

// legends for D and E
const legendGroups = ["HFD", "HFD-Asp"];
const legendColors = ["#dd3b25", "#2121f0"];
function legendPlot() {
  return Plot.plot({
    width: 130, height: 45, marginLeft: 10, marginRight: 10, marginTop: 11, marginBottom: 11,
    x: {domain: [0, 1], axis: null},
    y: {type: "point", domain: legendGroups, padding: 0, axis: null},
    color: {domain: legendGroups, range: legendColors},
    style: baseStyle("15px"),
    marks: [
      Plot.dot(legendGroups, {y: d => d, fill: d => d, frameAnchor: "left", r: 4.5}),
      Plot.text(legendGroups, {y: d => d, text: d => d, frameAnchor: "left", textAnchor: "start", dx: 19, fontSize: 15})
    ]
  });
}
place(legendPlot(), 276, 860);
place(legendPlot(), 641, 860);

// panel letters
label("A", 3, 2); label("B", 318, 2); label("C", 3, 300); label("D", 3, 864); label("E", 383, 864);
</script></body></html>
